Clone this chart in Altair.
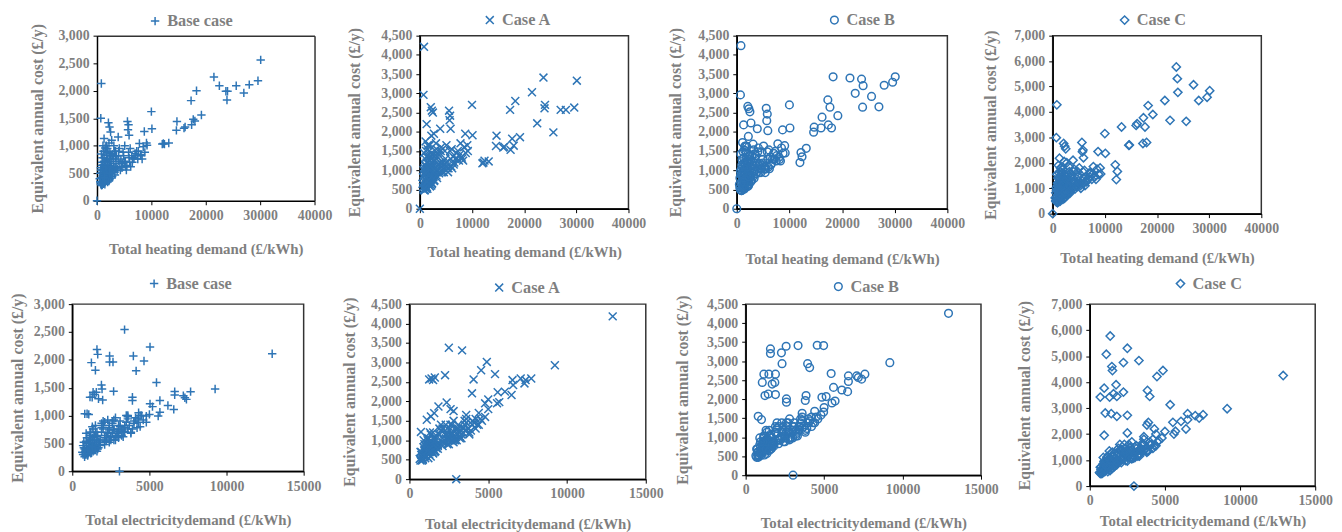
import altair as alt
import pandas as pd

BLUE = "#2E75B6"
GREY = "#7f7f7f"
FONT = "Liberation Serif"

# ---------------- tick values ----------------
heat_ticks = [0, 10000, 20000, 30000, 40000]
elec_ticks = [0, 5000, 10000, 15000]
cost_ticks_3000 = [0, 500, 1000, 1500, 2000, 2500, 3000]
cost_ticks_4500 = [0, 500, 1000, 1500, 2000, 2500, 3000, 3500, 4000, 4500]
cost_ticks_7000 = [0, 1000, 2000, 3000, 4000, 5000, 6000, 7000]

# ---------------- top row: heating demand ----------------
heat_out_x = [30100, 29600, 28000, 27000, 25600, 24000, 23900, 23700, 22500, 21500,
              19200, 18300, 18000, 17700, 17400, 17300, 16200, 16000, 14700, 14600,
              13200, 12400, 12200, 12000, 10100, 10000, 8700, 800, 700, 2100,
              2300, 2500, 5600, 5800, 5700, 5900, 1300, 3900, 0, 9200, 2700]
base_heat_out_y = [2560, 2180, 2110, 1960, 2090, 1990, 1830, 1990, 2090, 2250,
                   1560, 2000, 1450, 1480, 1380, 1820, 1340, 1320, 1440, 1280,
                   1050, 1030, 1040, 1030, 1310, 1620, 1260, 2130, 1500, 1420,
                   1340, 1250, 1440, 1380, 1290, 1190, 1130, 1160, 0, 1010, 1100]
a_heat_out_y = [3330, 2630, 2570, 2570, 1985, 2700, 2610, 3410, 2220, 3030,
                1860, 2800, 1640, 1820, 1530, 2570, 1610, 1590, 1900, 1630,
                1230, 1250, 1200, 1180, 1910, 2700, 1950, 4210, 2960, 2640,
                2550, 2500, 2550, 2420, 2300, 2080, 2200, 2080, 0, 1500, 1950]
b_heat_out_y = [3430, 3290, 3210, 2650, 2920, 3200, 2640, 3370, 3000, 3400,
                2420, 3430, 2100, 2640, 2180, 2830, 2380, 2100, 2120, 1990,
                1570, 1350, 1460, 1200, 2100, 2700, 2050, 4240, 2960, 2660,
                2600, 2520, 2610, 2460, 2290, 2030, 2180, 2080, 0, 1450, 2230]
c_heat_out_y = [4835, 4580, 4450, 5070, 3630, 4770, 5310, 5770, 3670, 4450,
                3900, 4250, 2800, 3410, 3770, 2760, 3540, 3470, 2700, 2690,
                3410, 1660, 1340, 1920, 2370, 3150, 2440, 4280, 2990, 2760,
                2650, 2550, 2800, 2500, 2430, 2200, 2180, 2100, 0, 1560, 2000]

heat_clu_x = [600, 800, 900, 1000, 1100, 1200, 1300, 1400, 1500, 1600,
              700, 950, 1150, 1350, 1550, 1750, 1900, 2100, 2300, 2500,
              800, 1000, 1250, 1450, 1700, 1950, 2200, 2400, 2700, 2900,
              1100, 1300, 1600, 1800, 2000, 2200, 2600, 3000, 3300, 3600,
              1200, 1500, 1900, 2300, 2800, 3200, 3500, 3900, 4300, 4700,
              2000, 2500, 3100, 3700, 4100, 4500, 5000, 5400, 5800, 6200,
              3400, 4200, 4800, 5300, 5900, 6500, 7000, 7500, 8000, 8500,
              4000, 5100, 6100, 6800, 7300, 7800, 8300, 8800, 9100, 6400,
              500, 650, 750, 850, 950, 1050, 1150, 1250, 1350, 1450,
              1550, 1650, 1750, 1850, 1950, 2050, 2150, 2250, 2350, 2450,
              600, 900, 1200, 1500, 1800, 2100, 2400, 2700, 3000, 3300,
              700, 1000, 1300, 1600, 1900, 2200, 2500, 2800, 3100, 3400,
              1100, 1400, 1700, 2000, 2300, 2600, 2900, 3200, 3500, 3800,
              4400, 4900, 5500, 6000, 6600, 7100, 7600, 8100, 4600, 5200]
base_heat_clu_y = [350, 420, 300, 520, 650, 380, 780, 460, 900, 560,
                   600, 290, 470, 330, 700, 420, 950, 520, 380, 820,
                   850, 560, 330, 620, 480, 740, 360, 640, 430, 560,
                   1000, 720, 400, 880, 580, 1050, 490, 680, 470, 820,
                   310, 960, 640, 760, 560, 900, 600, 720, 560, 680,
                   450, 600, 1000, 550, 950, 620, 720, 560, 880, 620,
                   800, 680, 880, 620, 780, 700, 860, 760, 820, 980,
                   900, 1000, 950, 780, 900, 1040, 760, 880, 1050, 820,
                   400, 330, 560, 280, 700, 450, 360, 600, 500, 300,
                   640, 380, 520, 820, 340, 600, 460, 720, 400, 540,
                   500, 640, 900, 460, 760, 420, 860, 520, 760, 600,
                   300, 780, 500, 620, 700, 880, 560, 440, 620, 900,
                   560, 420, 1000, 660, 500, 760, 840, 520, 680, 580,
                   760, 820, 640, 700, 760, 820, 900, 840, 600, 700]
a_heat_clu_y = [560, 700, 500, 880, 1100, 640, 1350, 780, 1550, 950,
                1000, 480, 800, 560, 1200, 700, 1650, 880, 640, 1400,
                1450, 950, 560, 1050, 820, 1250, 600, 1100, 720, 950,
                1750, 1200, 680, 1500, 980, 1900, 820, 1150, 800, 1400,
                520, 1650, 1080, 1300, 950, 1550, 1000, 1200, 950, 1150,
                760, 1000, 1700, 920, 1600, 1050, 1200, 950, 1500, 1050,
                1350, 1150, 1500, 1050, 1300, 1150, 1450, 1250, 1350, 1600,
                1500, 1650, 1550, 1300, 1500, 1700, 1250, 1450, 1650, 1350,
                650, 560, 900, 480, 1150, 750, 600, 1000, 820, 520,
                1050, 640, 860, 1350, 580, 1000, 760, 1200, 660, 900,
                820, 1050, 1500, 760, 1250, 700, 1400, 860, 1250, 1000,
                500, 1300, 820, 1050, 1150, 1450, 920, 740, 1050, 1450,
                920, 700, 1650, 1100, 840, 1250, 1400, 860, 1150, 960,
                1200, 1300, 1050, 1100, 1200, 1300, 1400, 1300, 950, 1100]
b_heat_clu_y = [540, 680, 480, 860, 1080, 620, 1320, 760, 1520, 930,
                980, 470, 780, 540, 1180, 690, 1620, 860, 630, 1380,
                1420, 930, 550, 1030, 800, 1230, 590, 1080, 710, 940,
                1720, 1180, 670, 1480, 960, 1880, 810, 1130, 790, 1380,
                510, 1620, 1060, 1280, 940, 1530, 990, 1190, 940, 1140,
                750, 990, 1680, 910, 1580, 1040, 1190, 940, 1480, 1040,
                1330, 1140, 1480, 1040, 1290, 1140, 1440, 1240, 1340, 1580,
                1480, 1630, 1530, 1290, 1490, 1690, 1240, 1440, 1640, 1340,
                630, 550, 880, 470, 1130, 730, 590, 980, 800, 510,
                1030, 630, 840, 1330, 570, 980, 740, 1180, 650, 880,
                800, 1030, 1480, 750, 1230, 690, 1380, 840, 1230, 980,
                490, 1280, 800, 1030, 1130, 1430, 900, 730, 1030, 1430,
                900, 690, 1630, 1080, 830, 1230, 1380, 850, 1130, 950,
                1180, 1280, 1030, 1080, 1180, 1280, 1380, 1280, 940, 1080]
c_heat_clu_y = [500, 640, 450, 860, 1120, 600, 1400, 750, 1650, 950,
                1020, 440, 780, 520, 1250, 680, 1750, 880, 620, 1480,
                1550, 980, 540, 1080, 800, 1320, 600, 1150, 720, 980,
                1900, 1250, 660, 1600, 1000, 2050, 820, 1200, 800, 1500,
                480, 1800, 1120, 1380, 960, 1650, 1020, 1280, 980, 1200,
                760, 1030, 1850, 950, 1750, 1100, 1300, 1000, 1650, 1100,
                1450, 1200, 1650, 1100, 1400, 1250, 1600, 1350, 1450, 1750,
                1650, 1800, 1700, 1400, 1600, 1850, 1350, 1550, 1800, 1450,
                620, 520, 920, 450, 1200, 750, 580, 1050, 840, 500,
                1100, 620, 880, 1450, 560, 1050, 760, 1300, 650, 940,
                820, 1100, 1600, 740, 1320, 680, 1500, 860, 1350, 1050,
                470, 1400, 820, 1100, 1200, 1550, 950, 740, 1100, 1600,
                950, 680, 1800, 1150, 840, 1350, 1500, 880, 1250, 1000,
                1300, 1450, 1150, 1200, 1300, 1450, 1550, 1450, 1050, 1200]

# ---------------- bottom row: electricity demand ----------------
elec_clu_x = [700, 800, 900, 1000, 1100, 1200, 1300, 1400, 1500, 1600,
              750, 850, 950, 1050, 1150, 1250, 1350, 1450, 1550, 1650,
              800, 1000, 1200, 1400, 1600, 1800, 2000, 2200, 2400, 2600,
              900, 1100, 1300, 1500, 1700, 1900, 2100, 2300, 2500, 2700,
              1700, 1900, 2100, 2300, 2500, 2700, 2900, 3100, 3300, 3500,
              2800, 3000, 3200, 3400, 3600, 3800, 4000, 4200, 4400, 4600,
              1000, 1400, 1800, 2200, 2600, 3000, 3400, 3800, 4200, 4800,
              1200, 1600, 2000, 2400, 2800, 3200, 3600, 4000, 4400, 5000,
              650, 750, 850, 950, 1050, 1150, 1250, 1350, 1450, 1550,
              700, 800, 900, 1000, 1100, 1200, 1300, 1400, 1500, 1600,
              1100, 1300, 1500, 1700, 1900, 2100, 2300, 2500, 2700, 2900,
              1800, 2000, 2200, 2400, 2600, 2800, 3000, 3200, 3400, 3600,
              3100, 3300, 3500, 3700, 3900, 4100, 4300, 4500, 3000, 3600,
              1200, 1500, 1800, 2100, 2400, 2700, 950, 1150, 1350, 1650]
base_elec_clu_y = [300, 260, 420, 340, 520, 380, 600, 450, 380, 700,
                   520, 360, 300, 460, 640, 330, 420, 560, 480, 400,
                   400, 300, 560, 480, 620, 520, 760, 600, 520, 900,
                   680, 380, 800, 420, 520, 860, 480, 700, 620, 560,
                   420, 700, 560, 920, 600, 740, 680, 800, 620, 880,
                   560, 820, 640, 720, 980, 700, 860, 780, 1000, 920,
                   280, 380, 480, 540, 680, 600, 780, 680, 940, 880,
                   460, 360, 900, 820, 960, 740, 1000, 900, 800, 1020,
                   340, 420, 300, 500, 380, 560, 440, 360, 620, 480,
                   460, 300, 540, 380, 460, 320, 520, 640, 420, 560,
                   600, 440, 700, 520, 780, 600, 680, 560, 760, 640,
                   560, 820, 640, 740, 860, 620, 760, 700, 820, 760,
                   900, 700, 1000, 820, 760, 960, 880, 1000, 720, 940,
                   700, 820, 460, 880, 780, 920, 600, 700, 760, 640]
a_elec_clu_y = [480, 560, 650, 600, 800, 700, 950, 760, 680, 1100,
                700, 520, 600, 820, 1000, 640, 760, 900, 820, 720,
                620, 700, 920, 820, 1050, 900, 1250, 1000, 900, 1400,
                1000, 700, 1200, 780, 900, 1300, 850, 1150, 1050, 980,
                800, 1150, 950, 1400, 1000, 1200, 1100, 1300, 1050, 1400,
                950, 1300, 1050, 1200, 1550, 1150, 1400, 1300, 1700, 1500,
                540, 720, 850, 940, 1150, 1000, 1300, 1200, 1550, 1600,
                820, 700, 1400, 1300, 1500, 1200, 1650, 1500, 1400, 1800,
                520, 620, 500, 760, 600, 860, 700, 580, 940, 760,
                700, 480, 820, 600, 720, 540, 800, 980, 660, 880,
                900, 700, 1050, 820, 1150, 950, 1050, 900, 1150, 1000,
                880, 1250, 1000, 1150, 1300, 1000, 1200, 1100, 1300, 1250,
                1400, 1150, 1500, 1300, 1250, 1450, 1400, 1550, 1150, 1450,
                1050, 1200, 780, 1300, 1200, 1400, 900, 1050, 1150, 1000]
b_elec_clu_y = [470, 540, 630, 590, 780, 690, 920, 740, 660, 1080,
                690, 510, 590, 800, 980, 630, 740, 880, 800, 700,
                610, 690, 900, 800, 1030, 880, 1230, 980, 880, 1380,
                980, 690, 1180, 760, 880, 1280, 830, 1130, 1030, 960,
                790, 1130, 930, 1380, 980, 1180, 1080, 1280, 1030, 1380,
                930, 1280, 1030, 1180, 1530, 1130, 1380, 1280, 1680, 1480,
                530, 700, 830, 920, 1130, 980, 1280, 1180, 1530, 1580,
                800, 690, 1380, 1280, 1480, 1180, 1630, 1480, 1380, 1780,
                510, 600, 490, 740, 590, 840, 690, 570, 920, 740,
                690, 470, 800, 590, 710, 530, 790, 960, 650, 860,
                880, 690, 1030, 800, 1130, 930, 1030, 880, 1130, 980,
                860, 1230, 980, 1130, 1280, 980, 1180, 1080, 1280, 1230,
                1380, 1130, 1480, 1280, 1230, 1430, 1380, 1530, 1130, 1430,
                1030, 1180, 770, 1280, 1180, 1380, 880, 1030, 1130, 980]
c_elec_clu_y = [480, 560, 680, 620, 850, 720, 1050, 800, 700, 1250,
                740, 530, 620, 880, 1100, 660, 800, 980, 880, 760,
                640, 720, 1000, 880, 1150, 980, 1400, 1100, 980, 1600,
                1100, 740, 1350, 820, 960, 1450, 900, 1300, 1150, 1080,
                860, 1300, 1020, 1600, 1100, 1350, 1200, 1450, 1150, 1600,
                1050, 1500, 1150, 1350, 1800, 1300, 1600, 1450, 2000, 1750,
                560, 760, 920, 1020, 1300, 1100, 1450, 1350, 1800, 1850,
                880, 740, 1600, 1450, 1700, 1350, 1900, 1700, 1550, 2100,
                520, 640, 500, 800, 620, 900, 720, 600, 1000, 800,
                720, 480, 860, 620, 760, 560, 840, 1050, 680, 940,
                960, 740, 1120, 860, 1250, 1000, 1120, 960, 1250, 1080,
                940, 1350, 1080, 1250, 1400, 1080, 1300, 1200, 1450, 1350,
                1550, 1250, 1650, 1450, 1350, 1600, 1550, 1700, 1250, 1600,
                1120, 1300, 820, 1400, 1300, 1500, 950, 1120, 1230, 1060]

base_elec_out_x = [12960, 9260, 7670, 7400, 7200, 7300, 6640, 6640, 6580, 6200,
                   5680, 5680, 5570, 5460, 5040, 5040, 5200, 4650, 3390, 3960,
                   4140, 3900, 3900, 2420, 2420, 2640, 2680, 1600, 1650, 1240,
                   1500, 1890, 1930, 1970, 1560, 1290, 1350, 1150, 1450, 1700,
                   960, 1070, 810, 3060, 4800, 4300]
base_elec_out_y = [2110, 1476, 1429, 1290, 1357, 1320, 1430, 1370, 1110, 1180,
                   1270, 1060, 990, 1594, 2230, 1210, 1160, 1980, 2543, 2069,
                   1802, 1330, 1270, 2069, 1962, 1962, 1434, 2187, 2098, 1950,
                   1814, 1547, 1476, 1280, 1417, 1328, 1420, 1330, 1380, 1300,
                   1031, 1020, 1030, 0, 990, 1050]
a_elec_out_x = [12900, 9230, 7730, 7370, 7060, 7300, 6540, 6480, 6580, 6060,
                5600, 5560, 5430, 4910, 4550, 3970, 4070, 3340, 2500, 2260,
                2360, 2610, 1250, 1400, 1500, 1610, 1360, 1100, 1570, 1840,
                730, 2970, 5000, 4800, 5700, 2800]
a_elec_out_y = [4185, 2929, 2589, 2547, 2589, 2462, 2547, 2165, 2419, 2250,
                2233, 1952, 2700, 3014, 2801, 2207, 2564, 3311, 3379, 2674,
                1970, 1800, 2564, 2589, 2547, 2615, 1613, 1528, 1698, 1868,
                1214, 0, 2050, 1950, 1980, 1750]
b_elec_out_x = [12930, 9190, 7600, 7390, 7080, 7180, 6550, 6550, 6500, 6130,
                5600, 5450, 4970, 4560, 5130, 4860, 4970, 3950, 4080, 3850,
                3800, 3340, 2580, 2280, 2320, 2600, 2600, 1580, 1580, 1160,
                1480, 1900, 1060, 1690, 1860, 1230, 1440, 1900, 800, 1010,
                3020, 5700, 5500]
b_elec_out_y = [4258, 2960, 2657, 2527, 2613, 2570, 2613, 2466, 2198, 2241,
                2310, 2674, 3410, 3418, 2068, 2050, 1661, 2934, 2830, 2094,
                1964, 3410, 3392, 3219, 2934, 2008, 1921, 3323, 3202, 2657,
                2657, 2657, 2440, 2397, 2440, 2094, 2137, 2120, 1549, 1462,
                0, 1950, 1900]
c_elec_out_x = [12870, 9140, 7540, 7280, 7020, 6510, 6510, 6400, 6070, 5530,
                5350, 4870, 4470, 5700, 5600, 3840, 3990, 3270, 2500, 2240,
                2500, 2500, 1360, 1100, 1470, 1510, 960, 700, 1320, 1580,
                1800, 1750, 2240, 1030, 1430, 1800, 960, 2940, 3900, 3800,
                4300]
c_elec_out_y = [4253, 2976, 2746, 2618, 2708, 2785, 2555, 2197, 2491, 2452,
                3129, 4445, 4215, 2108, 2000, 3679, 3449, 4828, 5301, 4752,
                2721, 2044, 5773, 5071, 4598, 4445, 3768, 3423, 3423, 3551,
                3449, 3896, 3615, 2810, 2785, 2682, 1954, 0, 2450, 2350,
                2200]

# marker shapes (Excel-like)
PLUS = "M-1,0L1,0M0,-1L0,1"
XMARK = "M-1,-1L1,1M-1,1L1,-1"
CIRCLE = "circle"
DIAMOND = "diamond"

Y_TITLE = "Equivalent annual cost (£/y)"
HEAT_TITLE = "Total heating demand (£/kWh)"
ELEC_TITLE = "Total electricitydemand (£/kWh)"
SW = 1.5


def panel(xs, ys, name, shape, size, xticks, yticks, xtitle, w, h, lx, ly, xtp, ytp,
          shift=0, rpad=None):
    """shift > 0 moves the plot frame right inside its own cell; rpad widens the cell on the right."""
    df = pd.DataFrame({"x": xs, "y": ys, "case": [name] * len(xs)})
    if shift:
        xscale = alt.Scale(domain=[xticks[0], xticks[-1]], nice=False, zero=False,
                           range=[shift, w + shift])
        yaxis = alt.Axis(values=yticks, format=",d", title=Y_TITLE, titlePadding=ytp,
                         titleFontSize=16, offset=-shift)
    else:
        xscale = alt.Scale(domain=[xticks[0], xticks[-1]], nice=False, zero=False)
        yaxis = alt.Axis(values=yticks, format=",d", title=Y_TITLE, titlePadding=ytp,
                         titleFontSize=16)
    yscale = alt.Scale(domain=[yticks[0], yticks[-1]], nice=False)
    pts = alt.Chart(df).mark_point(
        filled=False, size=size, strokeWidth=SW, color=BLUE, opacity=1
    ).encode(
        x=alt.X("x:Q", scale=xscale,
                axis=alt.Axis(values=xticks, format="d", title=xtitle, titlePadding=xtp,
                              titleFontSize=15)),
        y=alt.Y("y:Q", scale=yscale, axis=yaxis),
        shape=alt.Shape("case:N", scale=alt.Scale(domain=[name], range=[shape]),
                        legend=alt.Legend(title=None, orient="none", legendX=lx + shift, legendY=ly,
                                          symbolSize=size, symbolStrokeWidth=SW,
                                          symbolStrokeColor=BLUE, symbolFillColor="transparent",
                                          labelFont=FONT, labelFontSize=16.5, labelFontWeight="bold",
                                          labelColor=GREY, labelOffset=4, padding=0)),
    )
    layers = [pts]
    if rpad is not None:
        layers.append(alt.Chart(pd.DataFrame({"s": [0]})).mark_rule(color="white", strokeWidth=1).encode(
            x=alt.value(w + shift + rpad), x2=alt.value(w + shift + rpad + 1), y=alt.value(0)))
    if shift:
        frame = alt.Chart(df).mark_point(opacity=0).encode(
            x=alt.X("x:Q", scale=xscale,
                    axis=alt.Axis(orient="top", labels=False, ticks=False, title=None,
                                  domainColor="#333333", domainWidth=1.5)),
            y=alt.Y("y:Q", scale=yscale,
                    axis=alt.Axis(orient="right", labels=False, ticks=False, title=None,
                                  domainColor="#333333", domainWidth=1.5)),
        )
        layers.append(frame)
        return alt.layer(*layers).resolve_axis(x="independent", y="independent").properties(
            width=w + shift, height=h, view=alt.ViewBackground(strokeOpacity=0))
    if len(layers) == 1:
        return pts.properties(width=w, height=h)
    return alt.layer(*layers).properties(width=w, height=h)


p1 = panel(heat_out_x + heat_clu_x, base_heat_out_y + base_heat_clu_y, "Base case", PLUS, 72,
           heat_ticks, cost_ticks_3000, HEAT_TITLE, 220, 167, 50.5, -23, 19.5, 12.5, shift=25)
p2 = panel(heat_out_x + heat_clu_x, a_heat_out_y + a_heat_clu_y, "Case A", XMARK, 64,
           heat_ticks, cost_ticks_4500, HEAT_TITLE, 211, 175, 62.5, -24, 14.5, 19, rpad=23.5)
p3 = panel(heat_out_x + heat_clu_x, b_heat_out_y + b_heat_clu_y, "Case B", CIRCLE, 60,
           heat_ticks, cost_ticks_4500, HEAT_TITLE, 213, 175, 90.5, -24, 21.5, 14, rpad=19.5)
p4 = panel(heat_out_x + heat_clu_x, c_heat_out_y + c_heat_clu_y, "Case C", DIAMOND, 70,
           heat_ticks, cost_ticks_7000, HEAT_TITLE, 211, 180, 64.5, -24, 15.5, 15)

p5 = panel(base_elec_out_x + elec_clu_x, base_elec_out_y + base_elec_clu_y, "Base case", PLUS, 72,
           elec_ticks, cost_ticks_3000, ELEC_TITLE, 234, 169, 74.5, -29, 19.5, 8, rpad=25)
p6 = panel(a_elec_out_x + elec_clu_x, a_elec_out_y + a_elec_clu_y, "Case A", XMARK, 64,
           elec_ticks, cost_ticks_4500, ELEC_TITLE, 239, 177, 82.5, -25, 15.5, 13)
p7 = panel(b_elec_out_x + elec_clu_x, b_elec_out_y + b_elec_clu_y, "Case B", CIRCLE, 60,
           elec_ticks, cost_ticks_4500, ELEC_TITLE, 238, 173, 85.5, -26, 18.5, 16, rpad=23.5)
p8 = panel(c_elec_out_x + elec_clu_x, c_elec_out_y + c_elec_clu_y, "Case C", DIAMOND, 70,
           elec_ticks, cost_ticks_7000, ELEC_TITLE, 228, 184, 83.5, -29, 6, 18)

top = alt.hconcat(p1, p2, p3, p4, spacing=12.5).resolve_scale(
    shape="independent").resolve_legend(shape="independent")
bottom = alt.hconcat(p5, p6, p7, p8, spacing=9).resolve_scale(
    shape="independent").resolve_legend(shape="independent")

chart = alt.vconcat(top, bottom, spacing=6.5).resolve_scale(
    shape="independent").resolve_legend(shape="independent").properties(
    padding={"left": 0, "top": 0, "right": 0, "bottom": 0}
).configure_view(
    stroke="#333333", strokeWidth=1.5
).configure_axis(
    grid=False,
    labelFont=FONT, labelFontSize=14, labelFontWeight="bold", labelColor=GREY,
    titleFont=FONT, titleFontWeight="bold", titleColor=GREY,
    domainColor="#000000", domainWidth=1.5, tickColor="#000000", tickSize=4, tickWidth=1,
    labelPadding=4, labelFlush=False, labelOverlap=False,
)

chart.save("out.html", embed_options={"renderer": "svg", "actions": False})
